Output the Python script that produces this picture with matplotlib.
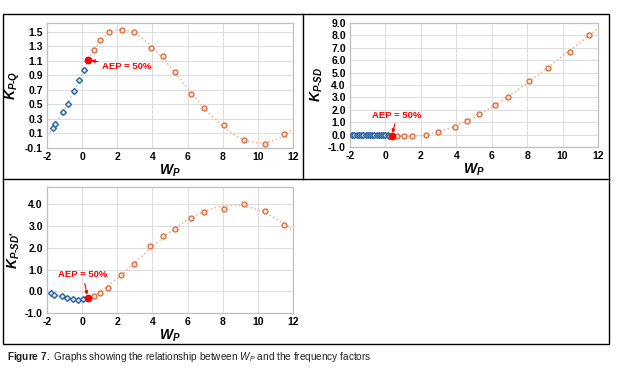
import numpy as np
import matplotlib
matplotlib.use('Agg')
import matplotlib.pyplot as plt
from matplotlib import font_manager
from matplotlib.lines import Line2D
from matplotlib.patches import Rectangle

# panel 1: K_P-Q
q_blue_x = [-1.68, -1.53, -1.11, -0.83, -0.49, -0.16, 0.08]
q_blue_y = [0.18, 0.23, 0.39, 0.50, 0.68, 0.83, 0.97]
q_org_x = [0.67, 1.03, 1.52, 2.24, 2.96, 3.90, 4.58, 5.28, 6.21, 6.91, 8.10, 9.20, 10.41, 11.51]
q_org_y = [1.25, 1.38, 1.49, 1.52, 1.49, 1.28, 1.16, 0.94, 0.64, 0.45, 0.22, 0.01, -0.05, 0.09]
q_aep = (0.36, 1.11)

# panel 2: K_P-SD
sd_blue_x = [-1.87, -1.75, -1.62, -1.50, -1.38, -1.25, -1.12, -1.00, -0.88,
             -0.75, -0.62, -0.50, -0.38, -0.25, -0.12, 0.00, 0.12, 0.20]
sd_blue_y = [-0.02, -0.02, -0.02, -0.03, -0.03, -0.03, -0.03, -0.04, -0.04,
             -0.04, -0.05, -0.05, -0.05, -0.06, -0.06, -0.07, -0.07, -0.08]
sd_org_x = [0.68, 1.05, 1.52, 2.27, 2.97, 3.90, 4.62, 5.29, 6.19, 6.90, 8.10, 9.19, 10.40, 11.47]
sd_org_y = [-0.10, -0.13, -0.10, -0.02, 0.20, 0.63, 1.06, 1.65, 2.42, 3.07, 4.35, 5.38, 6.70, 8.03]
sd_aep = (0.36, -0.08)

# panel 3: K_P-SD*
sds_blue_x = [-1.77, -1.62, -1.15, -0.86, -0.52, -0.26, 0.04]
sds_blue_y = [-0.07, -0.15, -0.23, -0.30, -0.35, -0.38, -0.34]
sds_org_x = [0.67, 0.99, 1.46, 2.22, 2.94, 3.88, 4.58, 5.28, 6.21, 6.91, 8.10, 9.20, 10.41, 11.51]
sds_org_y = [-0.23, -0.07, 0.16, 0.74, 1.25, 2.08, 2.53, 2.87, 3.38, 3.64, 3.77, 4.00, 3.71, 3.03]
sds_aep = (0.31, -0.29)

names = {f.name for f in font_manager.fontManager.ttflist}
cap_font = 'Liberation Sans Narrow' if 'Liberation Sans Narrow' in names else 'Liberation Sans'

plt.rcParams['font.family'] = 'Liberation Sans'
plt.rcParams['axes.unicode_minus'] = False
plt.rcParams['mathtext.fontset'] = 'custom'
plt.rcParams['mathtext.it'] = 'Liberation Sans:bold:italic'
plt.rcParams['mathtext.rm'] = 'Liberation Sans:bold'
plt.rcParams['mathtext.bf'] = cap_font + ':bold'
plt.rcParams['mathtext.sf'] = cap_font + ':italic'

W, H = 622, 374
fig = plt.figure(figsize=(W / 100, H / 100), dpi=100)

def px(l, t, r, b):
    return [l / W, 1 - b / H, (r - l) / W, (b - t) / H]

blue = '#2a64a0'
blue_line = '#9dc3e6'
orange = '#d6693a'
orange_fill = '#fbe0d0'
orange_line = '#f4b183'

def panel(rect, bx, by, ox, oy, aep, ylim, yticks, ylabel, ldeg, odeg, bx0, label_xy, align):
    ax = fig.add_axes(px(*rect))
    ax.set_xlim(-2, 12)
    ax.set_ylim(*ylim)
    ax.set_xticks(range(-2, 13, 2))
    ax.set_yticks(yticks)
    ax.yaxis.set_major_formatter(matplotlib.ticker.FormatStrFormatter('%.1f'))
    ax.grid(True, color='#dcdcdc', lw=0.7)
    ax.set_axisbelow(True)
    for s in ax.spines.values():
        s.set_color('#bfbfbf')
        s.set_linewidth(0.9)
    ax.tick_params(length=0, labelsize=7.5, pad=3)
    for t in ax.get_xticklabels() + ax.get_yticklabels():
        t.set_fontweight('bold')

    # trendlines fitted on the read points
    xb = np.array(bx + [aep[0]])
    yb = np.array(by + [aep[1]])
    cb = np.polyfit(xb, yb, ldeg)
    gx = np.linspace(bx0, aep[0], 60)
    ax.plot(gx, np.polyval(cb, gx), ls=':', color=blue_line, lw=1.1, zorder=2)
    xo = np.array([aep[0]] + ox)
    yo = np.array([aep[1]] + oy)
    co = np.polyfit(xo, yo, odeg)
    gx = np.linspace(aep[0], 12, 200)
    ax.plot(gx, np.polyval(co, gx), ls=':', color=orange_line, lw=1.1, zorder=2)

    ax.plot(bx, by, ls='none', marker='D', ms=3.0, mfc='#dbe8f5', mec=blue, mew=1.0, zorder=3)
    ax.plot(ox, oy, ls='none', marker='o', ms=3.6, mfc=orange_fill, mec=orange, mew=0.9, zorder=3)
    ax.plot(*aep, ls='none', marker='o', ms=4.6, color='#ff0000', zorder=4)
    ax.annotate('AEP = 50%', xy=aep, xytext=label_xy, color='#ff0000', fontsize=6.8,
                fontweight='bold', ha=align[0], va=align[1],
                arrowprops=dict(arrowstyle='-|>', color='#ff0000', lw=0.8,
                                mutation_scale=5, shrinkA=1, shrinkB=2))
    ax.set_xlabel(r'$W_P$', fontsize=10, labelpad=0)
    ax.set_ylabel(ylabel, fontsize=10, labelpad=2)
    return ax

panel((47, 23, 293, 148), q_blue_x, q_blue_y, q_org_x, q_org_y, q_aep,
      (-0.1, 1.62), np.arange(-0.1, 1.51, 0.2), r'$K_{P\text{-}Q}$', 2, 4, -2.0,
      (1.15, 1.02), ('left', 'center'))
panel((350, 23, 598, 147), sd_blue_x, sd_blue_y, sd_org_x, sd_org_y, sd_aep,
      (-1.0, 9.0), np.arange(-1, 9.1, 1.0), r'$K_{P\text{-}SD}$', 1, 3, -2.0,
      (0.66, 1.2), ('center', 'bottom'))
panel((47, 187, 293, 313), sds_blue_x, sds_blue_y, sds_org_x, sds_org_y, sds_aep,
      (-1.0, 4.8), np.arange(-1, 4.1, 1.0), r'$K_{P\text{-}SD^{*}}$', 2, 4, -1.8,
      (0.05, 0.55), ('center', 'bottom'))

# frame around the panels
fig.add_artist(Rectangle((3 / W, 1 - 344 / H), 606 / W, 330 / H, transform=fig.transFigure,
                         fill=False, ec='black', lw=1.0))
fig.add_artist(Line2D([3 / W, 609 / W], [1 - 179 / H] * 2, transform=fig.transFigure, color='black', lw=1.0))
fig.add_artist(Line2D([303 / W] * 2, [1 - 14 / H, 1 - 179 / H], transform=fig.transFigure, color='black', lw=1.0))

fig.text(7 / W, 1 - 357 / H,
         r'$\mathbf{Figure\ 7.}$ Graphs showing the relationship between $\mathsf{W}_{\mathsf{P}}$ and the frequency factors',
         fontsize=7.2, family=cap_font, color='#231f20', va='center', ha='left')

fig.savefig('out.png', dpi=100, facecolor='white')
